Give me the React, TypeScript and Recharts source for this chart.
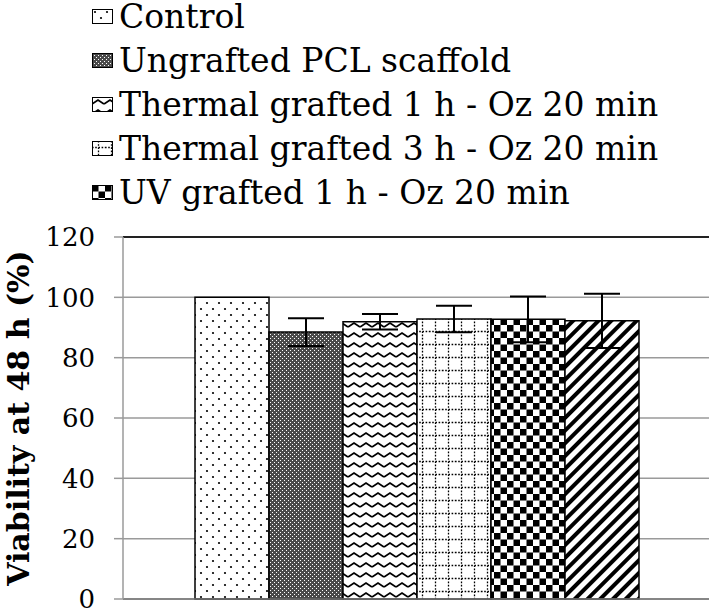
import React from 'react';
import { BarChart, Bar, XAxis, YAxis, CartesianGrid, ErrorBar, ReferenceLine } from 'recharts';

const seriesNames = [
  'Control',
  'Ungrafted PCL scaffold',
  'Thermal grafted 1 h - Oz 20 min',
  'Thermal grafted 3 h - Oz 20 min',
  'UV grafted 1 h - Oz 20 min',
  'UV grafted 3 h - Oz 20 min',
];
const viability = [100, 88.5, 91.9, 92.8, 92.7, 92.2];
const errors = [0, 4.6, 2.6, 4.4, 7.6, 9.0];
const patternIds = ['p-dots', 'p-dark', 'p-wave', 'p-grid', 'p-check', 'p-diag'];
const yTicks = [0, 20, 40, 60, 80, 100, 120];
// legend in the source only shows the first five entries
const legendCount = 5;

const row: Record<string, number | string> = { name: '48 h' };
seriesNames.forEach((_, i) => {
  row[`s${i}`] = viability[i];
  row[`e${i}`] = errors[i];
});
const data = [row];

const serif = '"DejaVu Serif", serif';

const Patterns = () => (
  <svg width={0} height={0} style={{ position: 'absolute' }}>
    <defs>
      <pattern id="p-dots" width={12} height={12} patternUnits="userSpaceOnUse">
        <rect width={12} height={12} fill="#fff" />
        <circle cx={3} cy={3} r={1.1} fill="#000" />
        <circle cx={9} cy={9} r={1.1} fill="#000" />
      </pattern>
      <pattern id="p-dark" width={4} height={4} patternUnits="userSpaceOnUse">
        <rect width={4} height={4} fill="#4a4a4a" />
        <rect x={0} y={0} width={1} height={1} fill="#fff" />
        <rect x={2} y={2} width={1} height={1} fill="#fff" />
      </pattern>
      <pattern id="p-wave" width={12} height={10} patternUnits="userSpaceOnUse">
        <rect width={12} height={10} fill="#fff" />
        <path d="M0,7 L6,3 L12,7" stroke="#000" strokeWidth={1.8} fill="none" />
      </pattern>
      <pattern id="p-grid" width={13} height={13} patternUnits="userSpaceOnUse">
        <rect width={13} height={13} fill="#fff" />
        <line x1={0} y1={6.5} x2={13} y2={6.5} stroke="#000" strokeWidth={1.3} strokeDasharray="1.6,1.6" />
        <line x1={6.5} y1={0} x2={6.5} y2={13} stroke="#000" strokeWidth={1.3} strokeDasharray="1.6,1.6" />
      </pattern>
      <pattern id="p-check" width={13} height={13} patternUnits="userSpaceOnUse">
        <rect width={13} height={13} fill="#fff" />
        <rect x={0} y={0} width={6.5} height={6.5} fill="#000" />
        <rect x={6.5} y={6.5} width={6.5} height={6.5} fill="#000" />
      </pattern>
      <pattern id="p-diag" width={9} height={9} patternUnits="userSpaceOnUse" patternTransform="rotate(45)">
        <rect width={9} height={9} fill="#fff" />
        <rect x={0} y={0} width={4} height={9} fill="#000" />
      </pattern>
    </defs>
  </svg>
);

const LegendBox = () => (
  <div style={{ position: 'absolute', left: 92, top: -5, fontFamily: serif, fontSize: 33, lineHeight: '44px', color: '#000' }}>
    {seriesNames.slice(0, legendCount).map((name, i) => (
      <div key={name} style={{ display: 'flex', alignItems: 'center', height: 44, whiteSpace: 'nowrap' }}>
        <svg width={22} height={16} style={{ marginRight: 5 }}>
          <rect x={0.5} y={0.5} width={20} height={14} fill={`url(#${patternIds[i]})`} stroke="#000" strokeWidth={1} />
        </svg>
        <span>{name}</span>
      </div>
    ))}
  </div>
);

export default function App() {
  return (
    <div style={{ position: 'absolute', left: 0, top: 0, width: 711, height: 610, background: '#fff' }}>
      <Patterns />
      <LegendBox />
      <BarChart
        width={711}
        height={610}
        data={data}
        margin={{ top: 237, right: 2, bottom: 10, left: 0 }}
        barCategoryGap={72}
        barGap={0}
      >
        <CartesianGrid vertical={false} stroke="#9a9a9a" strokeWidth={1.5} />
        <XAxis dataKey="name" tick={false} tickLine={false} height={1} axisLine={{ stroke: '#777', strokeWidth: 1.5 }} />
        <YAxis
          domain={[0, 120]}
          ticks={yTicks}
          interval={0}
          width={123}
          tickSize={9}
          tickMargin={19}
          axisLine={{ stroke: '#9a9a9a', strokeWidth: 1.5 }}
          tickLine={{ stroke: '#9a9a9a', strokeWidth: 1.5 }}
          tick={{ fill: '#000', fontFamily: serif, fontSize: 26 }}
          label={{
            value: 'Viability at 48 h (%)',
            angle: -90,
            position: 'center',
            dx: -43,
            style: { fontFamily: serif, fontSize: 30, fontWeight: 'bold', fill: '#000' },
          }}
        />
        <YAxis
          yAxisId="right"
          orientation="right"
          domain={[0, 120]}
          width={0}
          tick={false}
          tickLine={false}
          axisLine={{ stroke: '#333', strokeWidth: 1.5 }}
        />
        <ReferenceLine y={120} stroke="#222" strokeWidth={2} ifOverflow="visible" />
        {seriesNames.map((name, i) => (
          <Bar
            key={name}
            dataKey={`s${i}`}
            name={name}
            fill={`url(#${patternIds[i]})`}
            stroke="#000"
            strokeWidth={1.5}
            isAnimationActive={false}
          >
            {errors[i] > 0 && (
              <ErrorBar dataKey={`e${i}`} width={18} stroke="#000" strokeWidth={2} />
            )}
          </Bar>
        ))}
      </BarChart>
    </div>
  );
}
